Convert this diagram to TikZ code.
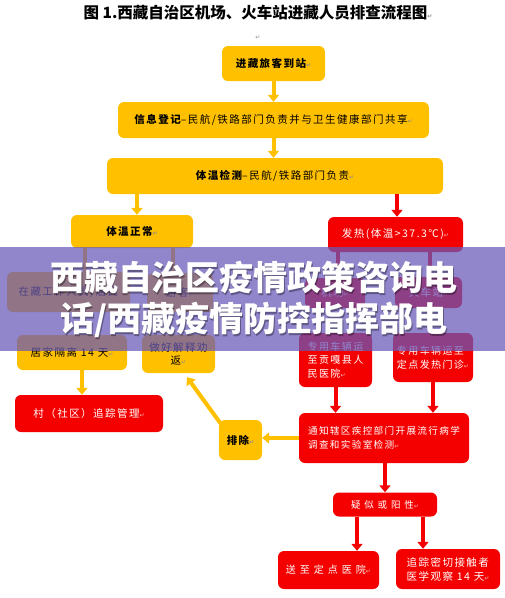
\documentclass[tikz,border=0pt]{standalone}
\usepackage{fontspec}
\usetikzlibrary{arrows.meta}
\newfontfamily\cjk[LetterSpace=14]{Noto Sans CJK SC}
\newfontfamily\cjkwide[LetterSpace=40]{Noto Sans CJK SC}
\newfontfamily\cjkplain{Noto Sans CJK SC}
\newfontfamily\symf{DejaVu Sans}
\definecolor{gold}{HTML}{FFC000}
\definecolor{rred}{HTML}{F50000}
\definecolor{bandc}{RGB}{105,89,185}
\newcommand{\retmark}[1][black!45]{{\symf\fontsize{6}{6}\selectfont\color{#1}↵}}
\begin{document}
\begin{tikzpicture}[x=1pt,y=-1pt,
  basebox/.style={rounded corners=6pt, inner sep=2pt, font=\cjk\fontsize{10.5}{13.5}\selectfont},
  ybox/.style={basebox, fill=gold, text=black, align=center},
  rbox/.style={basebox, fill=rred, text=white, align=center},
  sz/.style 2 args={minimum width=#1pt, minimum height=#2pt},
  yline/.style={draw=gold, line width=4pt},
  rline/.style={draw=rred, line width=4pt},
  yarrow/.style={yline, -{Triangle[width=11pt,length=7pt]}},
  rarrow/.style={rline, -{Triangle[width=11pt,length=7pt]}},
  bannertext/.style={font=\cjkplain\bfseries\fontsize{34}{40}\selectfont, text=white, inner sep=0pt},
  bannershadow/.style={font=\cjkplain\bfseries\fontsize{34}{40}\selectfont, text=black, opacity=0.35, inner sep=0pt}
]
\useasboundingbox (0,0) rectangle (505,598);
\fill[white] (0,0) rectangle (505,598);

% title
\node[font=\cjkplain\bfseries\fontsize{15.5}{18}\selectfont, inner sep=0pt] (title) at (258,13) {图 1.西藏自治区机场、火车站进藏人员排查流程图\retmark};
\node[inner sep=0pt] (lonemark) at (258,38) {\retmark};

% nodes
\node[ybox, sz={103}{35}] (n1) at (273.5,63.5) {\bfseries 进藏旅客到站\retmark};
\node[ybox, sz={311}{36}] (n2) at (273.5,120) {{\bfseries 信息登记}–民航/铁路部门负责并与卫生健康部门共享\retmark};
\node[ybox, sz={336}{36}] (n3) at (275,176) {{\bfseries 体温检测}–民航/铁路部门负责\retmark};
\node[ybox, sz={122}{33}] (n4) at (132,231.5) {\bfseries 体温正常\retmark};
\node[rbox, sz={135}{35}] (n5) at (395.5,234.5) {发热(体温>37.3℃)\retmark[white!70!red]};
\node[ybox, sz={123}{40}] (n6) at (68.5,292) {在藏工作人员/居民};
\node[ybox, sz={66}{39}] (n7) at (180,292.5) {游客\retmark};
\node[rbox, sz={60}{30}] (n8) at (335,293) {机场\retmark[white!70!red]};
\node[rbox, sz={67}{31}] (n9) at (428.5,292.5) {火车站\retmark[white!70!red]};
\node[ybox, sz={110}{35}] (n10) at (72,352.5) {居家隔离 14 天\retmark};
\node[ybox, sz={73}{38}] (n11) at (178.5,354) {做好解释劝\\返\retmark};
\node[rbox, sz={73}{54}, align=left, font=\cjk\fontsize{10}{13.5}\selectfont] (n12) at (335.5,360) {专用车辆运\\至贡嘎县人\\民医院\retmark[white!70!red]};
\node[rbox, sz={80}{49}, align=left, font=\cjk\fontsize{10}{13.5}\selectfont] (n13) at (433,357.5) {专用车辆运至\\定点发热门诊\retmark[white!70!red]};
\node[rbox, sz={148}{37}] (n14) at (89,413.5) {村（社区）追踪管理\retmark[white!70!red]};
\node[ybox, sz={43}{40}] (n15) at (240.5,440) {\bfseries 排除\retmark};
\node[rbox, sz={170}{50}, align=left, font=\cjk\fontsize{9.6}{14}\selectfont] (n16) at (384,438) {通知辖区疾控部门开展流行病学\\调查和实验室检测\retmark[white!70!red]};
\node[rbox, sz={104}{24}, font=\cjkwide\fontsize{9.5}{12}\selectfont] (n17) at (385,504.5) {疑似或阳性\retmark[white!70!red]};
\node[rbox, sz={101}{38}, font=\cjkwide\fontsize{10}{13}\selectfont] (n18) at (328.5,570) {送至定点医院\retmark[white!70!red]};
\node[rbox, sz={104}{40}, align=left, font=\cjk\fontsize{10.5}{14}\selectfont] (n19) at (448,569) {追踪密切接触者\\医学观察 14 天\retmark[white!70!red]};

% connectors
\draw[yarrow] (n1.south) -- (n1.south |- n2.north);
\draw[yarrow] (n2.south) -- (n2.south |- n3.north);
\draw[yarrow] ([xshift=5pt]n4.north |- n3.south) -- ([xshift=5pt]n4.north);
\draw[rarrow] ([xshift=1.5pt]n5.north |- n3.south) -- ([xshift=1.5pt]n5.north);
\draw[yline] ([xshift=-47pt]n4.south) -- ([xshift=-47pt]n4.south |- n6.north);
\draw[yline] ([xshift=41pt]n4.south) -- ([xshift=41pt]n4.south |- n7.north);
\draw[rline] ([xshift=-57.5pt]n5.south) -- ([xshift=-57.5pt]n5.south |- n8.north);
\draw[rline] ([xshift=34.5pt]n5.south) -- ([xshift=34.5pt]n5.south |- n9.north);
\draw[yarrow] ([xshift=10pt]n10.south) -- ([xshift=10pt]n10.south |- n14.north);
\draw[rarrow] (n12.south) -- (n12.south |- n16.north);
\draw[rarrow] (n13.south) -- (n13.south |- n16.north);
\draw[yarrow] (n16.west) -- (n15.east |- n16.west);
\draw[yarrow] ([xshift=2pt,yshift=-4pt]n15.north west) -- ([xshift=8.5pt,yshift=-4pt]n11.south);
\draw[rarrow] (n17.north |- n16.south) -- (n17.north);
\draw[rarrow] ([xshift=-28pt]n17.south) -- ([xshift=-28pt]n17.south |- n18.north);
\draw[rarrow] ([xshift=38pt]n17.south) -- ([xshift=38pt]n17.south |- n19.north);

% overlay banner
\fill[bandc, opacity=0.73] (0,247) rectangle (505,351);
\node[bannershadow] (bs1) at (255,279.5) {西藏自治区疫情政策咨询电};
\node[bannershadow] (bs2) at (255,321.5) {话/西藏疫情防控指挥部电};
\node[bannertext] (bt1) at (254,278) {西藏自治区疫情政策咨询电};
\node[bannertext] (bt2) at (254,320) {话/西藏疫情防控指挥部电};
\end{tikzpicture}
\end{document}
